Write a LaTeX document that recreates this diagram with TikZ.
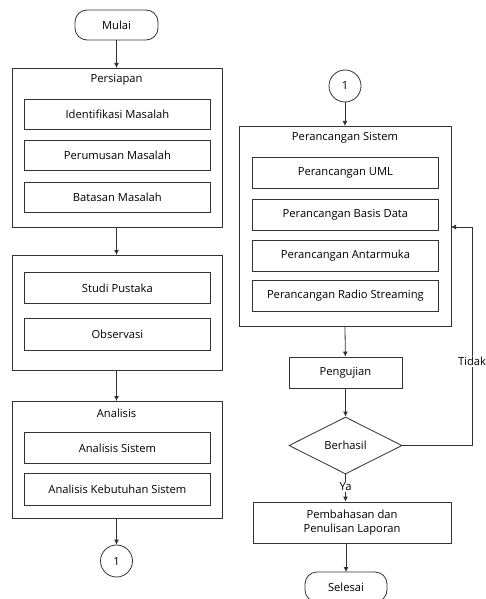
\documentclass[tikz,border=0pt]{standalone}
\usepackage{fontspec}
\setmainfont{Open Sans}
\usetikzlibrary{arrows.meta,shapes.geometric}
\begin{document}
\begin{tikzpicture}[x=1pt,y=-1pt,
  every node/.style={font=\fontsize{11.2}{14}\selectfont, text=black},
  line/.style={draw=black!80, line width=0.8pt},
  arr/.style={line, -{Latex[length=5pt,width=5pt]}},
  outer/.style={line, fill=white},
  inner/.style={line, fill=white, anchor=north west, inner sep=0pt},
  term/.style={line, rounded corners=12pt},
  conn/.style={line, circle, minimum size=32pt, inner sep=0pt}
]
\useasboundingbox (0,0) rectangle (485,599);

% ---- left column ----
\draw[term] (75,10) rectangle (158,40);
\node (mulai) at (116.5,25) {Mulai};
\coordinate (mulaiB) at (116.5,40);

\draw[outer] (12,68) rectangle (222,227);
\coordinate (prepT) at (116.5,68);
\coordinate (prepB) at (116.5,227);
\node (persiapan) at (116.5,80) {Persiapan};
\node[inner, minimum width=186pt, minimum height=30pt] (idm) at (24,99) {Identifikasi Masalah};
\node[inner, minimum width=186pt, minimum height=30pt] (prm) at (24,140) {Perumusan Masalah};
\node[inner, minimum width=186pt, minimum height=30pt] (btm) at (24,182) {Batasan Masalah};

\draw[outer] (12,255) rectangle (222,370);
\coordinate (litT) at (116.5,255);
\coordinate (litB) at (116.5,370);
\node[inner, minimum width=186pt, minimum height=31pt] (studi) at (24,272) {Studi Pustaka};
\node[inner, minimum width=186pt, minimum height=32pt] (obs) at (24,318) {Observasi};

\draw[outer] (12,401) rectangle (222,518);
\coordinate (anaT) at (116.5,401);
\coordinate (anaB) at (116.5,518);
\node (analisis) at (116.5,413) {Analisis};
\node[inner, minimum width=186pt, minimum height=31pt] (ans) at (24,432) {Analisis Sistem};
\node[inner, minimum width=186pt, minimum height=32pt] (akb) at (24,473) {Analisis Kebutuhan Sistem};

\node[conn] (c1a) at (116.5,561) {1};

\draw[arr] (mulaiB) -- (prepT);
\draw[arr] (prepB) -- (litT);
\draw[arr] (litB) -- (anaT);
\draw[arr] (anaB) -- (c1a);

% ---- right column ----
\node[conn] (c1b) at (345,86) {1};

\draw[outer] (239,126) rectangle (451,326);
\coordinate (psT) at (345,126);
\coordinate (psB) at (345,326);
\coordinate (psR) at (451,227);
\node (ps) at (345,138) {Perancangan Sistem};
\node[inner, minimum width=186pt, minimum height=31pt] (uml) at (252,157) {Perancangan UML};
\node[inner, minimum width=186pt, minimum height=31pt] (bd) at (252,199) {Perancangan Basis Data};
\node[inner, minimum width=186pt, minimum height=31pt] (am) at (252,240) {Perancangan Antarmuka};
\node[inner, minimum width=186pt, minimum height=31pt] (rs) at (252,280) {Perancangan Radio Streaming};

\node[line, minimum width=113pt, minimum height=31pt, inner sep=0pt] (uji) at (345.5,372.5) {Pengujian};

\node[line, diamond, minimum width=113pt, minimum height=57pt, inner sep=0pt, aspect=2] (ok) at (345.5,445.5) {Berhasil};

\node[line, minimum width=198pt, minimum height=41pt, inner sep=0pt, align=center] (lap) at (352,522.5) {Pembahasan dan\\Penulisan Laporan};

\draw[term] (305,572) rectangle (387,602);
\node (selesai) at (346,587) {Selesai};
\coordinate (selesaiT) at (346,572);

\draw[arr] (c1b) -- (psT);
\draw[arr] (psB) -- (uji);
\draw[arr] (uji) -- (ok);
\draw[arr] (ok.south) -- node[fill=white, inner sep=1pt, pos=0.45] (ya) {Ya} (lap.north -| ok.south);
\draw[arr] (lap.south -| selesaiT) -- (selesaiT);

\coordinate (loopB) at (472,445.5);
\coordinate (loopT) at (472,227);
\draw[arr] (ok.east) -- (loopB) -- node[fill=white, inner sep=1pt, pos=0.385] (tidak) {Tidak} (loopT) -- (psR);
\end{tikzpicture}
\end{document}
